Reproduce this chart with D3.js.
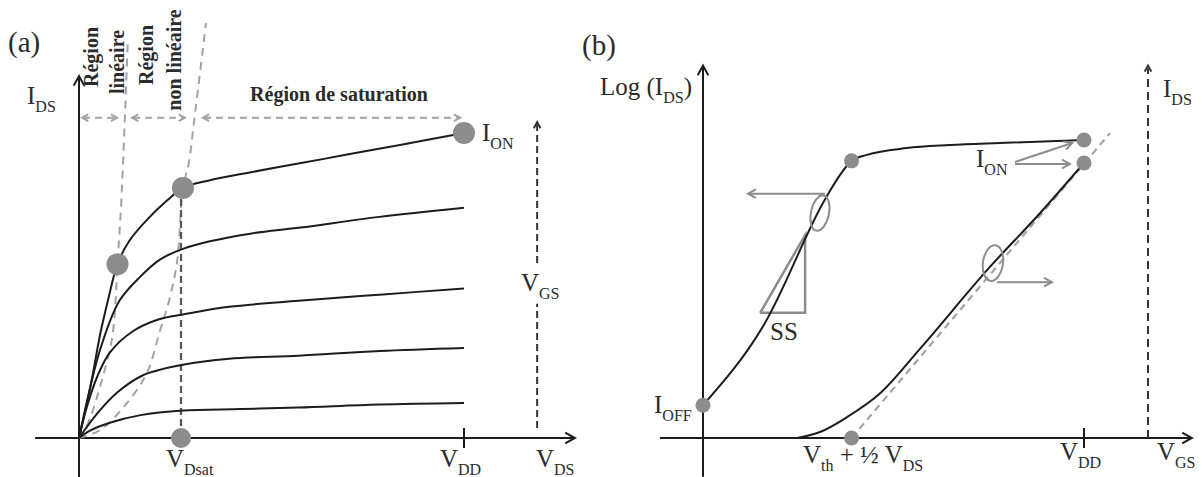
<!DOCTYPE html>
<html><head><meta charset="utf-8">
<script src="https://cdn.jsdelivr.net/npm/d3@7"></script>
<style>body{margin:0;background:#fff} svg{display:block} svg text{font-family:"Liberation Serif","Times New Roman",serif}</style>
</head><body>
<svg id="c" width="1202" height="477"></svg>
<script>
// ---------- Panel (a) data : V_DS (V_DD = 1) vs I_DS (I_ON = 1) ----------
const outputCurve1 = [[0,0],[0.03,0.17],[0.055,0.34],[0.075,0.45],[0.10,0.57],[0.13,0.645],[0.18,0.72],[0.23,0.78],[0.27,0.82],[0.34,0.845],[0.44,0.87],[0.57,0.90],[0.70,0.93],[0.83,0.96],[1.0,1.0]];
const outputCurve2 = [[0,0],[0.055,0.29],[0.105,0.45],[0.16,0.53],[0.21,0.585],[0.27,0.62],[0.34,0.645],[0.445,0.67],[0.575,0.69],[0.78,0.725],[1.0,0.755]];
const outputCurve3 = [[0,0],[0.02,0.10],[0.047,0.20],[0.08,0.28],[0.14,0.35],[0.21,0.39],[0.27,0.405],[0.39,0.43],[0.57,0.45],[0.78,0.47],[1.0,0.49]];
const outputCurve4 = [[0,0],[0.047,0.08],[0.10,0.15],[0.165,0.205],[0.27,0.24],[0.39,0.26],[0.57,0.27],[0.78,0.285],[1.0,0.295]];
const outputCurve5 = [[0,0],[0.03,0.025],[0.08,0.05],[0.16,0.075],[0.27,0.09],[0.42,0.095],[0.57,0.10],[0.78,0.11],[1.0,0.115]];
const outputCurves = [outputCurve1, outputCurve2, outputCurve3, outputCurve4, outputCurve5];
const linearBoundary = [[0,0],[0.01,0.015],[0.03,0.07],[0.055,0.17],[0.085,0.32],[0.095,0.45],[0.10,0.57],[0.11,0.78],[0.127,1.31]];
const satBoundary = [[0,0],[0.055,0.026],[0.115,0.10],[0.175,0.21],[0.21,0.35],[0.236,0.46],[0.255,0.58],[0.27,0.82],[0.285,0.90],[0.30,1.05],[0.33,1.36]];
const dotsA = [[0.10,0.57],[0.27,0.82],[1.0,1.0],[0.265,0]];
const vDsat = 0.265, vDD = 1.0, vGSarrowA = 1.19;
const regionArrowLevel = 1.05;
const regionSpans = [[0.008,0.099],[0.138,0.275],[0.322,0.99]];
const regionLabels = [["Région"],["linéaire"],["Région"],["non linéaire"]];
const satLabel = "Région de saturation";
const labelsA = ["I_{DS}","I_{ON}","V_{GS}","V_{Dsat}","V_{DD}","V_{DS}"];

// ---------- Panel (b) data : V_GS (V_DD = 1) vs current (arb.) ----------
const logCurve = [[0,0.11],[0.16,0.38],[0.32,0.80],[0.354,0.872],[0.39,0.93],[0.43,0.95],[0.535,0.973],[0.648,0.983],[0.78,0.99],[1.0,1.0]];
const linCurve = [[0.247,0],[0.307,0.02],[0.378,0.07],[0.465,0.15],[0.57,0.30],[0.753,0.574],[0.885,0.755],[1.0,0.923]];
const tangentLine = [[0.39,0],[1.068,1.023]];
const dotsB = [[0,0.11],[0.39,0.93],[1.0,1.0],[1.0,0.923],[0.39,0]];
const ssTriangle = [[0.15,0.42],[0.268,0.42],[0.268,0.681]];
const labelsB = ["Log (I_{DS})","I_{DS}","I_{ON}","I_{OFF}","SS","V_{th} + ½ V_{DS}","V_{DD}","V_{GS}"];

// ---------- scales ----------
const xA = d3.scaleLinear().domain([0,1]).range([79,464]);
const yA = d3.scaleLinear().domain([0,1]).range([438,133]);
const xB = d3.scaleLinear().domain([0,1]).range([703,1084]);
const yB = d3.scaleLinear().domain([0,1]).range([438,140]);

const svg = d3.select("#c");
const FONT = "Liberation Serif";
const BLACK = "#1c1c1c", GRAY = "#8c8c8c", LGRAY = "#a3a3a3", TXT = "#2b2b2b";

function chevron(x, y, angle, size, color, w) {
  const a1 = angle + Math.PI - 0.5, a2 = angle + Math.PI + 0.5;
  svg.append("path")
    .attr("d", `M${x+size*Math.cos(a1)},${y+size*Math.sin(a1)}L${x},${y}L${x+size*Math.cos(a2)},${y+size*Math.sin(a2)}`)
    .attr("fill","none").attr("stroke",color).attr("stroke-width",w||2).attr("stroke-linejoin","miter");
}
function seg(x1,y1,x2,y2,color,w,dash){
  const l = svg.append("line").attr("x1",x1).attr("y1",y1).attr("x2",x2).attr("y2",y2)
    .attr("stroke",color).attr("stroke-width",w);
  if (dash) l.attr("stroke-dasharray",dash);
  return l;
}
function rich(x, y, str, size, opts) {
  opts = opts || {};
  const t = svg.append("text").attr("x",x).attr("y",y).attr("font-size",size)
    .style("font-family",FONT).attr("fill",opts.fill||TXT);
  if (opts.anchor) t.attr("text-anchor",opts.anchor);
  const parts = str.split(/(_\{[^}]*\})/).filter(s=>s.length);
  let shifted = false; const ds = size*0.3;
  parts.forEach(p=>{
    if (p.startsWith("_{")) {
      const ts = t.append("tspan").text(p.slice(2,-1)).attr("font-size",size*0.64);
      if (!shifted) { ts.attr("dy",ds); shifted = true; }
    } else {
      const ts = t.append("tspan").text(p);
      if (shifted) { ts.attr("dy",-ds); shifted = false; }
    }
  });
  return t;
}

// ================= Panel (a) =================
seg(xA(-0.114), yA(0), xA(1.285), yA(0), BLACK, 2);
chevron(xA(1.288), yA(0), 0, 11, BLACK, 2);
seg(xA(0), yA(-0.13), xA(0), yA(1.184), BLACK, 2);
chevron(xA(0), yA(1.187), -Math.PI/2, 11, BLACK, 2);
seg(xA(vDD), yA(0)-10, xA(vDD), yA(0)+10, BLACK, 2);

const lineA = d3.line().x(d=>xA(d[0])).y(d=>yA(d[1])).curve(d3.curveCatmullRom.alpha(0.5));
svg.append("path").attr("d", lineA(linearBoundary))
  .attr("fill","none").attr("stroke",LGRAY).attr("stroke-width",2).attr("stroke-dasharray","8,6");
svg.append("path").attr("d", lineA(satBoundary))
  .attr("fill","none").attr("stroke",LGRAY).attr("stroke-width",2).attr("stroke-dasharray","8,6");

seg(xA(vDsat), yA(dotsA[1][1]), xA(vDsat), yA(0), "#555", 2.2, "7,4");

outputCurves.forEach(c=>{
  svg.append("path").attr("d", lineA(c))
    .attr("fill","none").attr("stroke",BLACK).attr("stroke-width",2);
});

regionSpans.forEach(s=>{
  const y = yA(regionArrowLevel);
  seg(xA(s[0])+1, y, xA(s[1])-1, y, LGRAY, 2, "7,5");
  chevron(xA(s[0]), y, Math.PI, 7, LGRAY, 2);
  chevron(xA(s[1]), y, 0, 7, LGRAY, 2);
});

{
  const x = xA(vGSarrowA);
  seg(x, yA(0)-10, x, yA(0.44), "#333", 2, "7,4");
  seg(x, yA(0.574), x, yA(1.03), "#333", 2, "7,4");
  chevron(x, yA(1.036), -Math.PI/2, 7, "#333", 2);
}

dotsA.forEach((d,i)=>{
  svg.append("circle").attr("cx",xA(d[0])).attr("cy",yA(d[1])).attr("r", i===3?10:11).attr("fill",GRAY);
});

const rotPos = [[98,57],[124,62],[153,55],[181,60]];
regionLabels.forEach((l,i)=>{
  svg.append("text").attr("transform",`translate(${rotPos[i][0]},${rotPos[i][1]}) rotate(-90)`)
    .attr("text-anchor","middle").style("font-family",FONT).attr("font-weight","bold")
    .attr("font-size",20).attr("fill",TXT).text(l[0]);
});
svg.append("text").attr("x",339).attr("y",101).attr("text-anchor","middle").style("font-family",FONT)
  .attr("font-weight","bold").attr("font-size",20).attr("fill",TXT).text(satLabel);

rich(8, 52, "(a)", 29);
rich(27, 104, labelsA[0], 25);
rich(482, 141, labelsA[1], 25);
rich(521, 291, labelsA[2], 25);
rich(166, 467, labelsA[3], 25);
rich(440, 467, labelsA[4], 25);
rich(536, 467, labelsA[5], 25);

// ================= Panel (b) =================
seg(xB(-0.113), yB(0), xB(1.28), yB(0), BLACK, 2);
chevron(xB(1.283), yB(0), 0, 11, BLACK, 2);
seg(xB(0), yB(-0.13), xB(0), yB(1.247), BLACK, 2);
chevron(xB(0), yB(1.25), -Math.PI/2, 11, BLACK, 2);
seg(xB(vDD), yB(0)-10, xB(vDD), yB(0)+10, BLACK, 2);

seg(xB(1.168), yB(0), xB(1.168), yB(1.24), "#333", 2, "8,5");
chevron(xB(1.168), yB(1.25), -Math.PI/2, 7, "#333", 2);

svg.append("path").attr("d", d3.line().x(d=>xB(d[0])).y(d=>yB(d[1]))(tangentLine))
  .attr("fill","none").attr("stroke",LGRAY).attr("stroke-width",2.2).attr("stroke-dasharray","7,5");

svg.append("path").attr("d", d3.line().x(d=>xB(d[0])).y(d=>yB(d[1]))([...ssTriangle, ssTriangle[0]]))
  .attr("fill","none").attr("stroke",GRAY).attr("stroke-width",2.5);

const lineB = d3.line().x(d=>xB(d[0])).y(d=>yB(d[1])).curve(d3.curveMonotoneX);
svg.append("path").attr("d", lineB(logCurve)).attr("fill","none").attr("stroke",BLACK).attr("stroke-width",2);
svg.append("path").attr("d", lineB(linCurve)).attr("fill","none").attr("stroke",BLACK).attr("stroke-width",2);

svg.append("ellipse").attr("cx",xB(0.307)).attr("cy",yB(0.755)).attr("rx",9).attr("ry",18)
  .attr("transform",`rotate(12 ${xB(0.307)} ${yB(0.755)})`).attr("fill","none").attr("stroke",GRAY).attr("stroke-width",2);
seg(xB(0.32), yB(0.82), xB(0.12), yB(0.82), GRAY, 2);
chevron(xB(0.118), yB(0.82), Math.PI, 9, GRAY, 2);
svg.append("ellipse").attr("cx",xB(0.761)).attr("cy",yB(0.587)).attr("rx",10).attr("ry",18)
  .attr("transform",`rotate(8 ${xB(0.761)} ${yB(0.587)})`).attr("fill","none").attr("stroke",GRAY).attr("stroke-width",2);
seg(xB(0.772), yB(0.523), xB(0.914), yB(0.523), GRAY, 2);
chevron(xB(0.916), yB(0.523), 0, 9, GRAY, 2);

{
  const x0 = xB(0.819), y0 = yB(0.923);
  const t1 = [xB(0.969), yB(0.99)], t2 = [xB(0.963), yB(0.923)];
  seg(x0, y0-1, t1[0], t1[1], GRAY, 2);
  chevron(t1[0], t1[1], Math.atan2(t1[1]-y0, t1[0]-x0), 9, GRAY, 2);
  seg(x0, y0+1, t2[0], t2[1]+1, GRAY, 2);
  chevron(t2[0], t2[1]+1, 0, 9, GRAY, 2);
}

dotsB.forEach(d=>{
  svg.append("circle").attr("cx",xB(d[0])).attr("cy",yB(d[1])).attr("r",7.5).attr("fill",GRAY);
});

rich(582, 55, "(b)", 29);
rich(600, 95, labelsB[0], 25);
rich(1163, 97, labelsB[1], 25);
rich(976, 167, labelsB[2], 25);
rich(654, 413, labelsB[3], 25);
rich(770, 340, labelsB[4], 25);
rich(803, 463, labelsB[5], 25);
rich(1060, 460, labelsB[6], 25);
rich(1157, 460, labelsB[7], 25);
</script>
</body></html>
